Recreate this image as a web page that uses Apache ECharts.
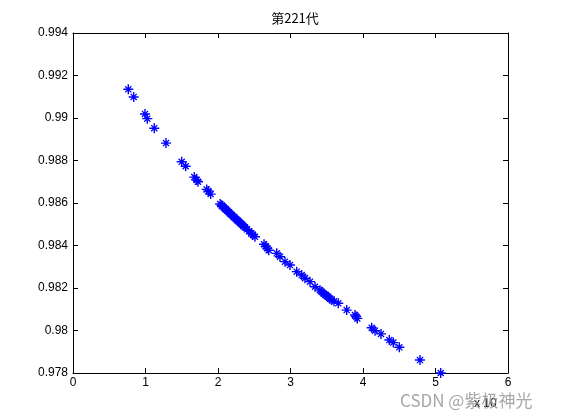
<!DOCTYPE html>
<html>
<head>
<meta charset="utf-8">
<script src="https://cdn.jsdelivr.net/npm/echarts@6/dist/echarts.min.js"></script>
<style>
  html, body { margin: 0; padding: 0; background: #fff; }
  #chart { width: 561px; height: 420px; }
</style>
</head>
<body>
<div id="chart"></div>
<script>
// values (x in units of the axis multiplier)
const xVals = [
  0.763, 0.837, 0.993, 1.025, 1.121, 1.283, 1.499, 1.554, 1.673, 1.706,
  1.724, 1.844, 1.866, 1.899,
  2.03, 2.05, 2.06, 2.08, 2.10, 2.11, 2.13, 2.15, 2.17, 2.19,
  2.21, 2.23, 2.25, 2.27, 2.29, 2.31, 2.33, 2.35, 2.37, 2.40,
  2.43, 2.46, 2.48, 2.51,
  2.635, 2.66, 2.68, 2.70, 2.81, 2.855, 2.924, 2.993, 3.086, 3.154,
  3.200, 3.269, 3.338, 3.407, 3.43, 3.452, 3.48, 3.50, 3.521, 3.545,
  3.568, 3.60, 3.659, 3.775, 3.89, 3.905, 3.921, 4.12, 4.166, 4.248,
  4.363, 4.418, 4.501, 4.786, 5.072
]
const yVals = [
  0.99135, 0.99099, 0.99019, 0.98997, 0.98952, 0.98882, 0.98794, 0.98773, 0.98722, 0.98708,
  0.98700, 0.98664, 0.98656, 0.98642,
  0.98595, 0.98589, 0.98585, 0.98579, 0.98573, 0.98569, 0.98563, 0.98556, 0.98550, 0.98544,
  0.98537, 0.98531, 0.98524, 0.98518, 0.98512, 0.98505, 0.98499, 0.98492, 0.98486, 0.98476,
  0.98467, 0.98457, 0.98451, 0.98441,
  0.98406, 0.98396, 0.98387, 0.98378, 0.98363, 0.98347, 0.98324, 0.98308, 0.98277, 0.98261,
  0.98246, 0.98230, 0.98206, 0.98190, 0.98182, 0.98175, 0.98168, 0.98162, 0.98159, 0.98150,
  0.98144, 0.98138, 0.98128, 0.98096, 0.98073, 0.98066, 0.98057, 0.98013, 0.97999, 0.97984,
  0.97955, 0.97943, 0.97921, 0.97861, 0.97800
]

const titleText = '第221代'
const xMin = 0, xMax = 6, xStep = 1
const yMin = 0.978, yMax = 0.994, yStep = 0.002

// MATLAB style '*' marker (plus + cross, with a centre dot)
const starPath = 'path://M4.3,0 L5.7,0 L5.7,10 L4.3,10 Z M0,4.3 L10,4.3 L10,5.7 L0,5.7 Z ' +
  'M1.5,2.4 L2.4,1.5 L8.5,7.6 L7.6,8.5 Z M7.6,1.5 L8.5,2.4 L2.4,8.5 L1.5,7.6 Z ' +
  'M3.6,3.6 L6.4,3.6 L6.4,6.4 L3.6,6.4 Z'

const points = xVals.map((x, i) => [x, yVals[i]])

const chart = echarts.init(document.getElementById('chart'))

const fmtY = v => parseFloat(v.toFixed(3)).toString()

const baseX = {
  type: 'value', min: xMin, max: xMax, interval: xStep,
  splitLine: { show: false },
  axisLine: { onZero: false, lineStyle: { color: '#000', width: 1 } },
  axisTick: { inside: true, length: 5, lineStyle: { color: '#000' } }
}
const baseY = {
  type: 'value', min: yMin, max: yMax, interval: yStep,
  splitLine: { show: false },
  axisLine: { onZero: false, lineStyle: { color: '#000', width: 1 } },
  axisTick: { inside: true, length: 5, lineStyle: { color: '#000' } }
}

chart.setOption({
  animation: false,
  backgroundColor: '#fff',
  title: {
    text: titleText,
    left: 290, top: 7, textAlign: 'center',
    textStyle: { fontSize: 13, fontWeight: 'normal', color: '#000', fontFamily: 'Noto Sans CJK SC' }
  },
  grid: { left: 73, right: 53, top: 33, bottom: 47 },
  xAxis: [
    Object.assign({}, baseX, {
      position: 'bottom',
      axisLabel: { color: '#000', fontSize: 12, margin: 4, fontFamily: 'Liberation Sans' }
    }),
    Object.assign({}, baseX, { position: 'top', axisLabel: { show: false } })
  ],
  yAxis: [
    Object.assign({}, baseY, {
      position: 'left',
      axisLabel: { color: '#000', fontSize: 12, margin: 5, fontFamily: 'Liberation Sans', formatter: fmtY }
    }),
    Object.assign({}, baseY, { position: 'right', axisLabel: { show: false } })
  ],
  series: [{
    type: 'scatter',
    data: points,
    symbol: starPath,
    symbolSize: 10,
    itemStyle: { color: '#0000ff', opacity: 1 }
  }],
  graphic: [
    {
      type: 'text', left: 474, top: 398,
      style: { text: 'x 10', fontSize: 12, fill: '#000', fontFamily: 'Liberation Sans' }
    },
    {
      type: 'text', left: 400, top: 392,
      style: { text: 'CSDN @紫极神光', fontSize: 17, fill: 'rgba(150,150,150,0.85)', fontFamily: 'Noto Sans CJK SC' }
    }
  ]
})
</script>
</body>
</html>
